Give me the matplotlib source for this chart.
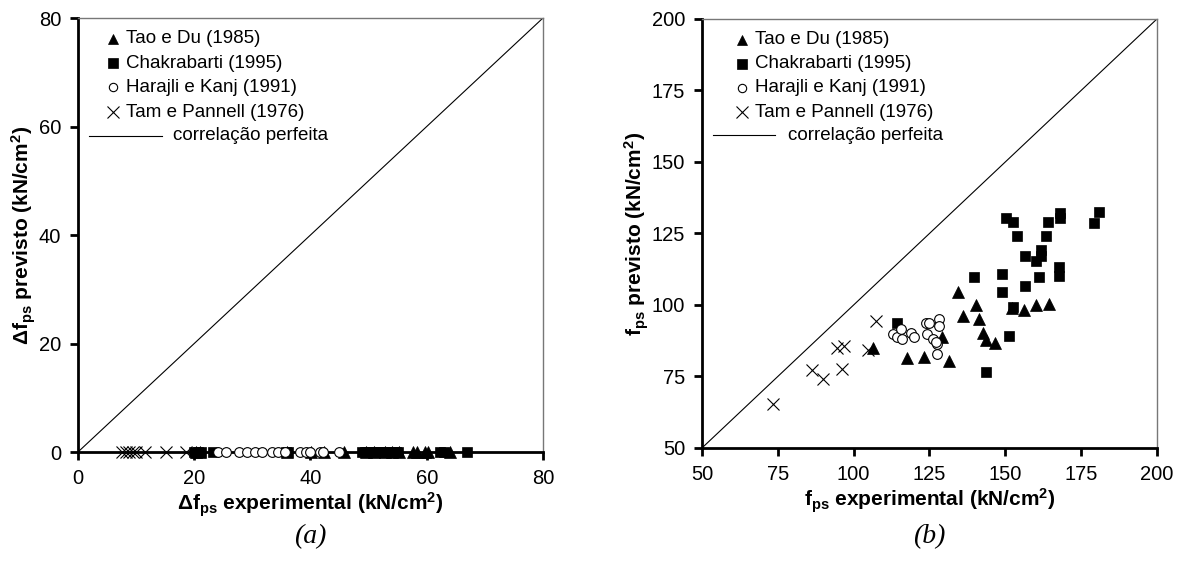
import matplotlib
matplotlib.use("Agg")
import matplotlib.pyplot as plt
from matplotlib.lines import Line2D

plt.rcParams['font.family'] = ['Liberation Sans', 'DejaVu Sans']
plt.rcParams['mathtext.fontset'] = 'custom'
plt.rcParams['mathtext.rm'] = 'Liberation Sans'
plt.rcParams['mathtext.bf'] = 'Liberation Sans:bold'
plt.rcParams['mathtext.it'] = 'Liberation Sans:italic'

# ---- (a) tension increments, kN/cm2 ----
tao_a_exp = [20.3, 21.0, 36.0, 40.1, 42.3, 45.8, 49.5, 51.0, 52.8, 54.0,
             55.2, 57.7, 58.4, 59.7, 60.2, 64.0]
tao_a_prev = [0.0, 0.0, 0.0, 0.0, 0.0, 0.0, 0.0, 0.0, 0.0, 0.0,
              0.0, 0.0, 0.0, 0.0, 0.0, 0.0]
chak_a_exp = [20.0, 20.6, 21.2, 23.2, 35.8, 36.2, 48.8, 49.3, 49.8, 50.2,
              50.6, 51.0, 51.5, 51.9, 52.4, 52.9, 53.3, 53.8, 54.2, 54.7,
              55.1, 62.3, 63.0, 66.9]
chak_a_prev = [0.0, 0.0, 0.0, 0.0, 0.0, 0.0, 0.0, 0.0, 0.0, 0.0,
               0.0, 0.0, 0.0, 0.0, 0.0, 0.0, 0.0, 0.0, 0.0, 0.0,
               0.0, 0.0, 0.0, 0.0]
hara_a_exp = [24.1, 25.4, 27.7, 29.0, 30.4, 31.7, 33.3, 34.5, 35.6, 38.2,
              39.3, 39.9, 41.6, 42.2, 44.9]
hara_a_prev = [0.0, 0.0, 0.0, 0.0, 0.0, 0.0, 0.0, 0.0, 0.0, 0.0,
               0.0, 0.0, 0.0, 0.0, 0.0]
tam_a_exp = [7.5, 8.2, 8.8, 9.5, 10.0, 11.6, 15.2, 18.5]
tam_a_prev = [0.0, 0.0, 0.0, 0.0, 0.0, 0.0, 0.0, 0.0]

# ---- (b) tension at ultimate, kN/cm2 ----
tao_b_exp = [106.5, 117.5, 123.2, 129.0, 131.5, 134.5, 136.2, 140.2, 141.2,
             142.7, 143.5, 146.6, 152.3, 156.3, 160.1, 164.5]
tao_b_prev = [84.9, 81.4, 81.7, 88.9, 80.5, 104.4, 96.2, 100.0, 95.0,
              90.1, 87.8, 86.6, 98.8, 98.3, 100.0, 100.2]
chak_b_exp = [114.2, 139.7, 143.6, 148.8, 148.8, 150.1, 152.7, 152.7, 151.3,
              154.0, 156.5, 156.5, 160.0, 161.7, 161.7, 161.1, 163.4, 164.2,
              168.0, 168.0, 167.8, 167.8, 179.2, 180.9]
chak_b_prev = [93.6, 109.9, 76.5, 110.8, 104.4, 130.5, 129.1, 99.4, 89.2,
               124.2, 117.2, 106.7, 115.5, 119.2, 117.1, 109.7, 124.2, 129.1,
               132.3, 130.3, 113.3, 110.1, 128.5, 132.4]
hara_b_exp = [113.1, 114.2, 115.5, 115.8, 118.9, 119.9, 123.8, 124.9, 124.1,
              126.3, 127.4, 127.0, 127.4, 128.2, 128.2]
hara_b_prev = [89.9, 88.9, 91.5, 88.1, 90.3, 88.9, 93.6, 93.6, 89.8,
               88.1, 86.3, 87.2, 82.8, 95.1, 92.8]
tam_b_exp = [73.5, 86.2, 89.8, 94.4, 96.8, 96.3, 104.8, 107.3]
tam_b_prev = [65.4, 77.3, 74.1, 85.1, 85.8, 77.5, 84.3, 94.4]

legend_labels = ['Tao e Du (1985)', 'Chakrabarti (1995)',
                 'Harajli e Kanj (1991)', 'Tam e Pannell (1976)']
line_label = 'correlação perfeita'

styles = [
    dict(marker='^', ms=8, mfc='black', mec='black', mew=0.5),
    dict(marker='s', ms=7, mfc='black', mec='black', mew=0.5),
    dict(marker='o', ms=7, mfc='white', mec='black', mew=0.8),
    dict(marker='x', ms=9, mfc='none', mec='black', mew=0.8),
]
leg_styles = [
    dict(marker='^', ms=7.5, mfc='black', mec='black', mew=0.5),
    dict(marker='s', ms=6.5, mfc='black', mec='black', mew=0.5),
    dict(marker='o', ms=6, mfc='white', mec='black', mew=0.8),
    dict(marker='x', ms=9, mfc='none', mec='black', mew=0.8),
]

fig = plt.figure(figsize=(11.78, 5.67), dpi=100)
ax_a = fig.add_axes([0.0662, 0.2028, 0.3947, 0.7654])
ax_b = fig.add_axes([0.5959, 0.2099, 0.3862, 0.7566])


def style_axes(ax, lo, hi, step):
    ax.set_xlim(lo, hi)
    ax.set_ylim(lo, hi)
    ticks = list(range(lo, hi + 1, step))
    ax.set_xticks(ticks)
    ax.set_yticks(ticks)
    for side in ('left', 'bottom'):
        ax.spines[side].set_linewidth(2.0)
        ax.spines[side].set_color('black')
    for side in ('top', 'right'):
        ax.spines[side].set_linewidth(1.0)
        ax.spines[side].set_color('#777777')
    ax.tick_params(direction='out', length=6, width=2.0, labelsize=14.5,
                   pad=6, colors='black')
    # perfect correlation line
    ax.plot([lo, hi], [lo, hi], color='black', lw=0.8, zorder=2)


def draw_legend(ax, mx, tx, lx0, lx1, ltx):
    rows = [0.952, 0.896, 0.840, 0.783, 0.729]
    for st, lab, yy in zip(leg_styles, legend_labels, rows):
        ax.add_line(Line2D([mx], [yy], transform=ax.transAxes, ls='none', **st))
        ax.text(tx, yy, lab, transform=ax.transAxes, fontsize=13.5,
                va='center', ha='left')
    ax.add_line(Line2D([lx0, lx1], [rows[4], rows[4]], transform=ax.transAxes,
                       color='black', lw=0.8))
    ax.text(ltx, rows[4], line_label, transform=ax.transAxes, fontsize=13.5,
            va='center', ha='left')


def scatter_series(ax, series):
    for (xs, ys), st in zip(series, styles):
        ax.plot(xs, ys, ls='none', clip_on=False, zorder=4, **st)


# (a)
style_axes(ax_a, 0, 80, 20)
scatter_series(ax_a, [(tao_a_exp, tao_a_prev), (chak_a_exp, chak_a_prev),
                      (hara_a_exp, hara_a_prev), (tam_a_exp, tam_a_prev)])
ax_a.set_xlabel('Δf$_{\\mathbf{ps}}$ experimental (kN/cm$^{\\mathbf{2}}$)',
                fontsize=15, fontweight='bold', labelpad=2)
ax_a.set_ylabel('Δf$_{\\mathbf{ps}}$ previsto (kN/cm$^{\\mathbf{2}}$)',
                fontsize=15, fontweight='bold', labelpad=1)
draw_legend(ax_a, 0.075, 0.103, 0.024, 0.180, 0.205)

# (b)
style_axes(ax_b, 50, 200, 25)
scatter_series(ax_b, [(tao_b_exp, tao_b_prev), (chak_b_exp, chak_b_prev),
                      (hara_b_exp, hara_b_prev), (tam_b_exp, tam_b_prev)])
ax_b.set_xlabel('f$_{\\mathbf{ps}}$ experimental (kN/cm$^{\\mathbf{2}}$)',
                fontsize=15, fontweight='bold', labelpad=2)
ax_b.set_ylabel('f$_{\\mathbf{ps}}$ previsto (kN/cm$^{\\mathbf{2}}$)',
                fontsize=15, fontweight='bold', labelpad=1)
draw_legend(ax_b, 0.089, 0.116, 0.024, 0.160, 0.189)

# panel captions
for ax, cap in ((ax_a, '(a)'), (ax_b, '(b)')):
    pos = ax.get_position()
    fig.text((pos.x0 + pos.x1) / 2, 1 - 537 / 567, cap, ha='center',
             va='center', fontsize=20, style='italic',
             family='Liberation Serif')

fig.savefig('out.png', dpi=100)
